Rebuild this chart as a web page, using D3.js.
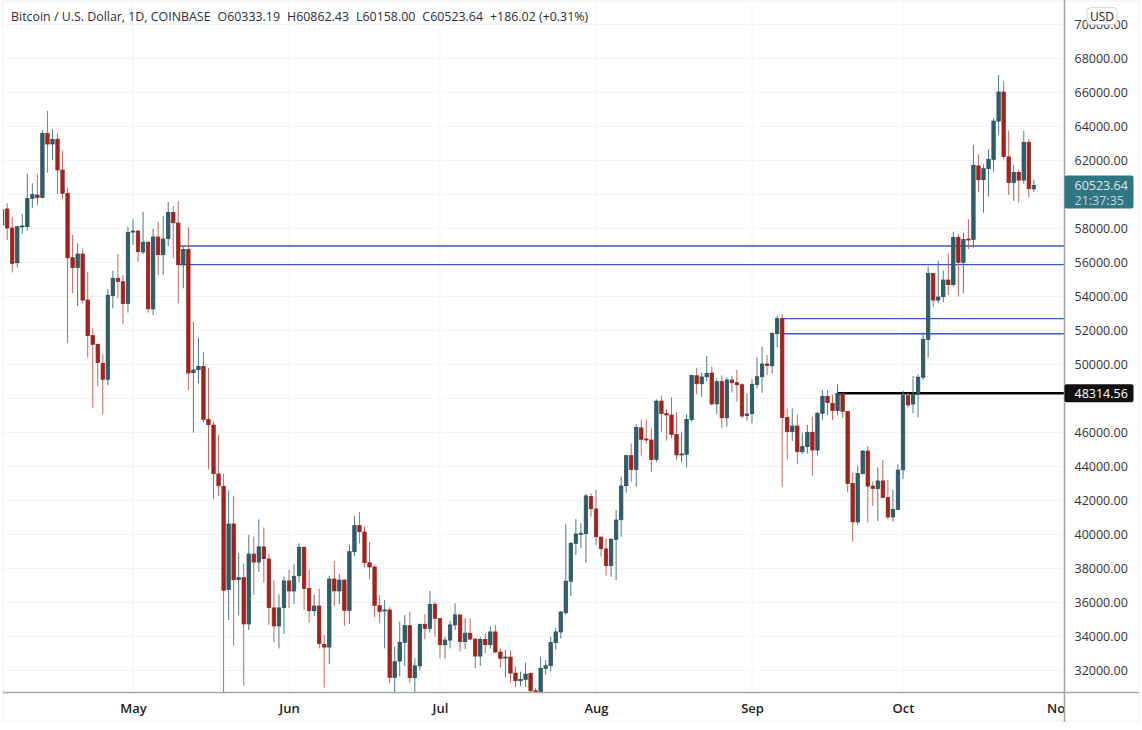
<!DOCTYPE html>
<html>
<head>
<meta charset="utf-8">
<script src="https://cdn.jsdelivr.net/npm/d3@7"></script>
<style>
  body { margin: 0; background: #fff; }
  text { font-family: "Open Sans", sans-serif; }
</style>
</head>
<body>
<script>
// daily BTC/USD candles, first candle is 5 Apr 2021
var firstDay = new Date(Date.UTC(2021, 3, 5));

var opens = [
  58210,59150,58030,55990,58090,58110,59770,59970,59830,63600,
  62970,63250,61440,60070,56280,55700,56500,53790,51700,51190,
  50070,49130,54050,55070,54870,53600,57790,57850,56620,57190,
  53270,57500,56460,57420,58950,58320,55870,56760,49520,49700,
  49890,46760,46440,43560,42830,36760,40620,37360,37460,34740,
  38850,38380,39270,38560,35680,34620,35700,37270,36680,37580,
  39250,36830,35520,35790,33540,33380,37380,36680,37320,35540,
  38990,40520,40150,38340,38090,35810,35500,35560,31600,32560,
  33660,34640,31580,32270,34720,34480,35890,35050,33520,33790,
  34680,35270,33700,34190,33850,32850,33830,33520,34270,33090,
  32740,32790,31850,31400,31480,31830,30810,30500,32130,32280,
  33640,34270,35400,37250,39480,40030,40050,42230,41500,39850,
  39150,38170,39720,40870,42870,44640,43830,46270,45620,45560,
  44420,47850,47110,47030,45890,44680,44720,46760,49340,48870,
  49280,49500,47680,48990,46870,49090,48930,48810,46990,47110,
  48830,49280,50030,49930,51810,52700,46890,46050,46380,44870,
  45170,46010,44970,47130,48130,47720,47300,48300,47230,43010,
  40740,43580,44910,42850,42700,43150,42170,41030,41480,43810,
  48170,47680,48250,49250,51480,55360,53790,53990,54970,54700,
  57480,56010,57380,57360,61680,60870,61520,62070,64320,66030,
  62210,60700,61300,60850,63070,60333.19
];
var highs = [
  59300,59480,58660,58110,58850,61210,60660,61210,63790,64910,
  63830,63600,62580,60420,57620,57130,56830,55460,52130,51210,
  50600,54420,55520,56500,55250,58110,58540,57910,58990,57230,
  57990,58400,58740,59560,59320,59600,56970,58070,52520,51580,
  50720,49810,46640,45850,43580,42600,42270,38890,38300,39970,
  39870,40890,40420,38890,37280,36480,37520,37910,38250,39480,
  39280,37910,36460,36810,34090,37580,38440,37680,37360,39420,
  41090,41320,40460,39560,38210,36440,36150,35720,33400,34870,
  35260,35460,32720,34720,35300,36680,36050,35050,33990,34930,
  35950,35270,35070,35070,33890,33990,34190,34580,34680,33300,
  33210,33170,32230,31930,32460,31890,30950,32810,32620,33990,
  34520,35500,40600,39580,40910,40660,42380,42420,42620,39870,
  39780,39780,41440,43400,44680,45360,46480,46740,46770,46250,
  47950,48170,47380,48070,47190,46050,47090,49400,49810,49520,
  50500,49870,49190,49360,49250,49320,49680,48890,48300,49130,
  50420,51050,50560,51890,52870,52950,47420,47420,47070,45990,
  46440,46930,47230,48500,48500,48210,48830,48300,47270,43640,
  44050,44970,45210,43110,43950,44380,43210,42620,44130,48460,
  48340,49320,49440,51890,55760,55360,56110,55520,56540,57810,
  57680,57760,58540,62910,62360,61760,62660,64480,67030,66680,
  63760,61740,61480,63740,63270,60862.43
];
var lows = [
  58100,57320,55420,55700,57680,57870,59190,59360,59770,61280,
  62030,60030,59720,51280,54190,53440,53600,50400,47460,48700,
  47070,48790,53300,53890,52360,53050,57030,56050,56500,53050,
  52910,55270,55270,56970,56250,53600,54480,48500,45990,48890,
  46580,43830,42090,42280,30000,34970,33460,35230,31110,34380,
  36440,37810,37170,34680,33640,33300,34150,35660,35910,37170,
  35560,34810,35210,33300,30990,32380,35790,35910,34620,34740,
  38740,39480,38070,37360,35130,34810,33300,31250,30560,31640,
  32270,31280,30560,31990,33830,34230,33990,32720,32680,33300,
  34380,33110,33270,33760,32130,32270,33010,33300,33010,32170,
  31580,31280,31010,31090,31050,30660,30170,30270,31740,31970,
  33210,33890,35270,36380,38790,39190,38340,41050,39380,38700,
  37580,37520,37320,39870,42460,43110,42810,44640,45360,43700,
  44250,46050,45520,45660,44380,44230,43950,46640,48250,48110,
  49030,47580,47090,46280,46340,48360,47810,46830,46700,46540,
  48600,48340,49380,49480,51010,42810,44420,45500,44130,44740,
  44770,43460,44640,46740,47030,46740,47030,46870,42480,39580,
  40540,43540,40700,41680,40790,42130,40890,40760,41440,43270,
  47460,47130,46890,49090,50400,53360,53600,53660,54090,54580,
  53990,54190,56790,56870,60130,58930,59870,61340,63500,62070,
  59970,59620,59520,60620,59830,60158.00
];
var closes = [
  59090,58030,55950,58110,58150,59770,59990,59830,63600,62970,
  63250,61440,60070,56280,55700,56500,53790,51700,51190,50110,
  49130,54070,55070,54890,53580,57770,57850,56640,57190,53280,
  57500,56460,57380,58950,58340,55870,56760,49500,49680,49890,
  46770,46460,43580,42870,36720,40620,37340,37460,34740,38850,
  38380,39270,38580,35700,34620,35680,37270,36680,37540,39250,
  36830,35520,35790,33580,33380,37380,36680,37320,35540,38990,
  40520,40170,38340,38090,35830,35480,35560,31600,32520,33660,
  34640,31580,32270,34720,34480,35890,35070,33520,33790,34680,
  35270,33700,34190,33850,32850,33830,33520,34270,33090,32720,
  32790,31850,31400,31480,31790,30810,30500,32130,32280,33640,
  34270,35440,37250,39480,40030,40070,42270,41520,39870,39170,
  38170,39720,40850,42850,44640,43830,46300,45600,45560,44420,
  47850,47110,47030,45890,44680,44740,46770,49360,48870,49270,
  49480,47680,48990,46870,49090,48930,48810,46970,47090,48830,
  49280,50030,49950,51830,52700,46890,46050,46380,44870,45170,
  46010,44970,47130,48130,47760,47300,48300,47250,43010,40740,
  43580,44910,42850,42700,43150,42170,41030,41480,43790,48170,
  47620,48250,49250,51480,55360,53790,53970,54970,54700,57480,
  56010,57360,57320,61720,60870,61520,62070,64320,66030,62230,
  60700,61300,60850,63070,60340,60523.64
];

// horizontal levels drawn on the chart, each runs to the price axis
var blueLevels = [56970, 55880, 52700, 51810];
var blueStarts = ["2021-05-10", "2021-05-10", "2021-09-07", "2021-09-07"];
var blackLevel = 48314.56;
var blackStart = "2021-09-18";

var gridPrices = d3.range(32000, 70001, 2000);
// 48000 and 60000 sit under the two price tags, so they get no label
var priceTicks = gridPrices.filter(function(d) { return d != 48000 && d != 60000; });
var monthTicks = ["2021-05-01", "2021-06-01", "2021-07-01", "2021-08-01", "2021-09-01", "2021-10-01", "2021-11-01"];
var lastPrice = 60523.64;
var countdown = "21:37:35";
var header = "Bitcoin / U.S. Dollar, 1D, COINBASE";
var ohlcText = ["O60333.19", "H60862.43", "L60158.00", "C60523.64", "+186.02 (+0.31%)"];

var upColor = "#2c5f6e", upWick = "#4d7a87";
var downColor = "#ab1f18", downWick = "#c4665e";

var width = 1142, height = 730;
var plot = {left: 3, right: 1064.5, top: 2, bottom: 692.5};

var candles = opens.map(function(o, i) {
  return {date: d3.utcDay.offset(firstDay, i), o: o, h: highs[i], l: lows[i], c: closes[i]};
});

var x = d3.scaleUtc()
  .domain([new Date("2021-05-01"), new Date("2021-11-01")])
  .range([133, 1059]);

var y = d3.scaleLinear()
  .domain([32000, 68000])
  .range([670.5, 58.5]);

var svg = d3.select("body").append("svg")
  .attr("width", width)
  .attr("height", height)
  .style("display", "block");

svg.append("clipPath").attr("id", "plotClip")
  .append("rect")
  .attr("x", plot.left)
  .attr("y", plot.top)
  .attr("width", plot.right - plot.left)
  .attr("height", plot.bottom - plot.top);

// faint outer frame
svg.append("rect")
  .attr("x", plot.left)
  .attr("y", plot.top - 1)
  .attr("width", 1139 - plot.left)
  .attr("height", 722 - plot.top)
  .attr("fill", "none")
  .attr("stroke", "#eceef1");

var chart = svg.append("g").attr("clip-path", "url(#plotClip)");

// grid
chart.selectAll(".hgrid").data(gridPrices).enter().append("line")
  .attr("class", "hgrid")
  .attr("x1", plot.left).attr("x2", plot.right)
  .attr("y1", function(d) { return y(d); })
  .attr("y2", function(d) { return y(d); })
  .attr("stroke", "#f3f4f7");

chart.selectAll(".vgrid").data(monthTicks).enter().append("line")
  .attr("class", "vgrid")
  .attr("x1", function(d) { return x(new Date(d)); })
  .attr("x2", function(d) { return x(new Date(d)); })
  .attr("y1", plot.top).attr("y2", plot.bottom)
  .attr("stroke", "#f3f4f7");

// drawn levels
chart.selectAll(".level").data(blueLevels).enter().append("line")
  .attr("class", "level")
  .attr("x1", function(d, i) { return x(new Date(blueStarts[i])); })
  .attr("x2", plot.right)
  .attr("y1", function(d) { return y(d); })
  .attr("y2", function(d) { return y(d); })
  .attr("stroke", "#3d57c4")
  .attr("stroke-width", 1.3);

chart.append("line")
  .attr("x1", x(new Date(blackStart)))
  .attr("x2", plot.right)
  .attr("y1", y(blackLevel))
  .attr("y2", y(blackLevel))
  .attr("stroke", "#000")
  .attr("stroke-width", 2.5);

// wicks
chart.selectAll(".wick").data(candles).enter().append("line")
  .attr("class", "wick")
  .attr("x1", function(d) { return x(d.date); })
  .attr("x2", function(d) { return x(d.date); })
  .attr("y1", function(d) { return y(d.h); })
  .attr("y2", function(d) { return y(d.l); })
  .attr("stroke", function(d) { return d.c >= d.o ? upWick : downWick; })
  .attr("stroke-width", 1);

// bodies
chart.selectAll(".body").data(candles).enter().append("rect")
  .attr("class", "body")
  .attr("x", function(d) { return x(d.date) - 1.7; })
  .attr("width", 3.4)
  .attr("y", function(d) { return y(Math.max(d.o, d.c)); })
  .attr("height", function(d) { return Math.max(1, Math.abs(y(d.o) - y(d.c))); })
  .attr("fill", function(d) { return d.c >= d.o ? upColor : downColor; })
  .attr("stroke", function(d) { return d.c >= d.o ? "#2f4f5c" : "#8f2a22"; })
  .attr("stroke-width", 0.8);

// price axis
var yAxis = svg.append("g")
  .attr("transform", "translate(" + plot.right + ",0)")
  .call(d3.axisRight(y).tickValues(priceTicks).tickSize(0).tickPadding(10).tickFormat(d3.format(".2f")));
yAxis.select(".domain").remove();
yAxis.selectAll("text").style("font-size", "12.5px").attr("fill", "#333");

// time axis, Nov gets cut by the price axis
svg.append("clipPath").attr("id", "timeClip")
  .append("rect")
  .attr("x", plot.left).attr("y", plot.bottom)
  .attr("width", plot.right - plot.left).attr("height", 40);

var xAxis = svg.append("g")
  .attr("clip-path", "url(#timeClip)")
  .append("g")
  .attr("transform", "translate(0," + plot.bottom + ")")
  .call(d3.axisBottom(x)
    .tickValues(monthTicks.map(function(d) { return new Date(d); }))
    .tickSize(0).tickPadding(11).tickFormat(d3.utcFormat("%b")));
xAxis.select(".domain").remove();
xAxis.selectAll("text").style("font-size", "13px").style("font-weight", "600").attr("fill", "#222");

// axis lines
svg.append("line")
  .attr("x1", plot.left).attr("x2", 1139)
  .attr("y1", plot.bottom).attr("y2", plot.bottom)
  .attr("stroke", "#a3a6ab").attr("stroke-width", 1.6);
svg.append("line")
  .attr("x1", plot.right).attr("x2", plot.right)
  .attr("y1", 0).attr("y2", 722)
  .attr("stroke", "#a3a6ab").attr("stroke-width", 1.6);

// last price tag
var lastTag = svg.append("g").attr("transform", "translate(" + plot.right + "," + y(lastPrice) + ")");
lastTag.append("rect")
  .attr("x", 0).attr("y", -10).attr("width", 69).attr("height", 33).attr("rx", 2)
  .attr("fill", "#2f7683");
lastTag.append("text").attr("x", 10).attr("y", 4).text(d3.format(".2f")(lastPrice))
  .attr("fill", "#dfe9ea").style("font-size", "12.5px");
lastTag.append("text").attr("x", 10).attr("y", 19).text(countdown)
  .attr("fill", "#c4d8da").style("font-size", "12.5px");

// drawn level tag
var blackTag = svg.append("g").attr("transform", "translate(" + plot.right + "," + y(blackLevel) + ")");
blackTag.append("rect")
  .attr("x", 0).attr("y", -9).attr("width", 69).attr("height", 18).attr("rx", 2)
  .attr("fill", "#111");
blackTag.append("text").attr("x", 10).attr("y", 4.5).text(d3.format(".2f")(blackLevel))
  .attr("fill", "#fff").style("font-size", "12.5px");

// currency button sits over the 70000 tick
var usd = svg.append("g").attr("transform", "translate(1102,16)");
usd.append("rect")
  .attr("x", -15).attr("y", -8.5).attr("width", 30).attr("height", 17).attr("rx", 4)
  .attr("fill", "#fff").attr("stroke", "#d5d7db");
usd.append("text").attr("text-anchor", "middle").attr("y", 4.5).text("USD")
  .attr("fill", "#222").style("font-size", "12px");

// header line
var title = svg.append("text").attr("x", 11).attr("y", 21)
  .attr("fill", "#2a2e39").style("font-size", "12.4px");
title.append("tspan").text(header);
title.selectAll(".ohlc").data(ohlcText).enter().append("tspan")
  .attr("class", "ohlc")
  .attr("dx", 7)
  .text(function(d) { return d; });
</script>
</body>
</html>
